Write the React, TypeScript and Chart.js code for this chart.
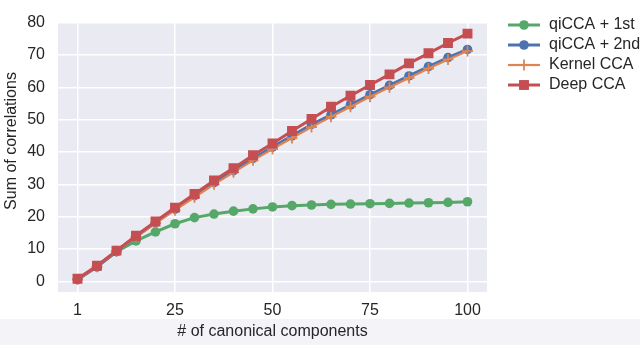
import React, { useEffect, useRef } from "react";
import { Chart, registerables } from "chart.js";

Chart.register(...registerables);

// Number of canonical components at each plotted point (plotted at even spacing)
const components = [1, 5, 10, 15, 20, 25, 30, 35, 40, 45, 50, 55, 60, 65, 70, 75, 80, 85, 90, 95, 100];
const xTickIndices = [0, 5, 10, 15, 20];
const yTickValues = [0, 10, 20, 30, 40, 50, 60, 70, 80];

const seriesNames = ["qiCCA + 1st", "qiCCA + 2nd", "Kernel CCA", "Deep CCA"];

const qiCCA1st = [0.6, 4.5, 9.2, 12.5, 15.3, 17.8, 19.7, 20.8, 21.7, 22.4, 23.0, 23.4, 23.6, 23.8, 23.9, 24.0, 24.1, 24.2, 24.3, 24.4, 24.6];
const qiCCA2nd = [0.6, 4.5, 9.2, 13.8, 18.2, 22.3, 26.5, 30.5, 34.2, 38.0, 41.5, 45.0, 48.5, 51.5, 54.6, 57.7, 60.6, 63.5, 66.4, 69.2, 71.7];
const kernelCCA = [0.6, 4.5, 9.3, 13.7, 18.0, 22.0, 26.0, 30.0, 33.7, 37.4, 40.9, 44.3, 47.7, 50.9, 54.0, 57.1, 60.0, 62.9, 65.8, 68.6, 71.2];
const deepCCA = [0.8, 4.8, 9.5, 14.1, 18.5, 22.8, 27.0, 31.2, 35.0, 39.0, 42.6, 46.5, 50.2, 54.0, 57.4, 60.7, 64.0, 67.4, 70.5, 73.7, 76.6];

const colors = ["#55A868", "#4C72B0", "#DD8452", "#C44E52"];
const FONT = '"Liberation Sans", Arial, Helvetica, sans-serif';
const TEXT = "#262626";
const FS = 16;
const yTitle = "Sum of correlations";

const toPoints = (arr: number[]) => arr.map((v, i) => ({ x: i, y: v }));

export default function App() {
  const ref = useRef<HTMLCanvasElement>(null);

  useEffect(() => {
    if (!ref.current) return;

    const styles = [
      { pointStyle: "circle", radius: 4.8, lw: 3, pbw: 0 },
      { pointStyle: "circle", radius: 4.8, lw: 3, pbw: 0 },
      { pointStyle: "cross", radius: 5.5, lw: 2.2, pbw: 1.8 },
      { pointStyle: "rect", radius: 7, lw: 3, pbw: 0 },
    ];

    const decor = {
      id: "decor",
      beforeDraw(chart: any) {
        const { ctx, chartArea: a, width, height } = chart;
        ctx.save();
        ctx.fillStyle = "#F3F3F8";
        ctx.fillRect(0, 319, width, height - 319);
        ctx.fillStyle = "#EAEAF2";
        ctx.fillRect(a.left, a.top, a.right - a.left, a.bottom - a.top);
        ctx.restore();
      },
      afterDraw(chart: any) {
        const { ctx } = chart;
        ctx.save();
        // y-axis title
        ctx.save();
        ctx.translate(12, 141);
        ctx.rotate(-Math.PI / 2);
        ctx.fillStyle = TEXT;
        ctx.font = `${FS}px ${FONT}`;
        ctx.textAlign = "center";
        ctx.textBaseline = "middle";
        ctx.fillText(yTitle, 0, 0);
        ctx.restore();
        // legend
        seriesNames.forEach((name, i) => {
          const y = 25 + i * 20;
          const c = colors[i];
          const s = styles[i];
          ctx.strokeStyle = c;
          ctx.fillStyle = c;
          ctx.lineWidth = s.lw;
          ctx.beginPath();
          ctx.moveTo(508, y);
          ctx.lineTo(540, y);
          ctx.stroke();
          const mx = 524;
          if (s.pointStyle === "circle") {
            ctx.beginPath();
            ctx.arc(mx, y, s.radius, 0, Math.PI * 2);
            ctx.fill();
          } else if (s.pointStyle === "rect") {
            const h = s.radius * Math.SQRT1_2;
            ctx.fillRect(mx - h, y - h, 2 * h, 2 * h);
          } else {
            ctx.lineWidth = s.pbw;
            ctx.beginPath();
            ctx.moveTo(mx, y - s.radius);
            ctx.lineTo(mx, y + s.radius);
            ctx.stroke();
          }
          ctx.fillStyle = TEXT;
          ctx.font = `${FS}px ${FONT}`;
          ctx.textBaseline = "middle";
          ctx.textAlign = "left";
          ctx.fillText(name, 549, y);
        });
        ctx.restore();
      },
    };

    const data = [qiCCA1st, qiCCA2nd, kernelCCA, deepCCA];
    const orders = [4, 3, 2, 1];

    const chart = new Chart(ref.current, {
      type: "line",
      data: {
        datasets: data.map((arr, i) => ({
          label: seriesNames[i],
          data: toPoints(arr),
          borderColor: colors[i],
          backgroundColor: colors[i],
          borderWidth: styles[i].lw,
          pointStyle: styles[i].pointStyle as any,
          pointRadius: styles[i].radius,
          pointBorderWidth: styles[i].pbw,
          pointBorderColor: colors[i],
          pointBackgroundColor: colors[i],
          tension: 0,
          order: orders[i],
        })),
      },
      options: {
        responsive: false,
        animation: false,
        layout: { padding: { left: 0, right: 153, top: 15, bottom: 0 } },
        plugins: {
          legend: { display: false },
          tooltip: { enabled: false },
        },
        scales: {
          x: {
            type: "linear",
            min: -1,
            max: 21,
            afterBuildTicks: (axis: any) => {
              axis.ticks = xTickIndices.map((v) => ({ value: v }));
            },
            afterFit: (axis: any) => {
              axis.height = 53;
            },
            grid: { color: "#ffffff", lineWidth: 1.5, drawTicks: false },
            border: { display: false },
            ticks: {
              autoSkip: false,
              maxRotation: 0,
              padding: 9,
              color: TEXT,
              font: { family: FONT, size: FS },
              callback: (v: any) => String(components[Number(v)]),
            },
            title: {
              display: true,
              text: "# of canonical components",
              color: TEXT,
              font: { family: FONT, size: FS },
              padding: { top: 0, bottom: 4 },
            },
          },
          y: {
            type: "linear",
            min: -3.3,
            max: 80,
            afterBuildTicks: (axis: any) => {
              axis.ticks = yTickValues.map((v) => ({ value: v }));
            },
            afterFit: (axis: any) => {
              axis.width = 58;
            },
            grid: { color: "#ffffff", lineWidth: 1.5, drawTicks: false },
            border: { display: false },
            ticks: {
              padding: 13,
              color: TEXT,
              font: { family: FONT, size: FS },
            },
          },
        },
      },
      plugins: [decor],
    });

    return () => chart.destroy();
  }, []);

  return (
    <div style={{ position: "fixed", left: 0, top: 0, width: 640, height: 345, background: "#ffffff" }}>
      <canvas ref={ref} width={640} height={345} style={{ display: "block" }} />
    </div>
  );
}
